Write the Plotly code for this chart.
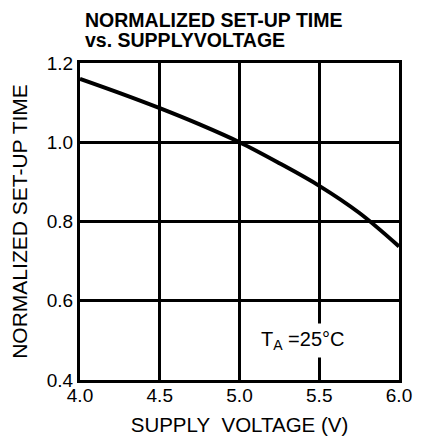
import plotly.graph_objects as go

# Data
supply_voltage = [4.0, 4.25, 4.5, 4.75, 5.0, 5.25, 5.5, 5.75, 6.0]
normalized_setup_time = [1.160, 1.124, 1.086, 1.045, 1.0, 0.947, 0.890, 0.822, 0.737]

x_ticks = [4.0, 4.5, 5.0, 5.5, 6.0]
x_tick_labels = ["4.0", "4.5", "5.0", "5.5", "6.0"]
y_ticks = [0.4, 0.6, 0.8, 1.0, 1.2]
y_tick_labels = ["0.4", "0.6", "0.8", "1.0", "1.2"]

title_line1 = "NORMALIZED SET-UP TIME"
title_line2 = "vs. SUPPLYVOLTAGE"
x_title = "SUPPLY&nbsp; VOLTAGE (V)"
y_title = "NORMALIZED SET-UP TIME"
temp_note = "T<sub>A</sub> =25°C"

FONT = "Liberation Sans, Arial, sans-serif"

fig = go.Figure()
fig.add_trace(go.Scatter(
    x=supply_voltage, y=normalized_setup_time,
    mode="lines", line=dict(color="black", width=4, shape="spline"),
    showlegend=False, hoverinfo="skip",
))

axis_common = dict(
    showgrid=True, gridcolor="black", gridwidth=2.5,
    showline=True, linecolor="black", linewidth=3, mirror=True,
    zeroline=False, ticks="", automargin=False, ticklabeloverflow="allow",
    tickfont=dict(family=FONT, size=19, color="black"),
)

fig.update_xaxes(
    range=[4.0, 6.0], tickvals=x_ticks, ticktext=x_tick_labels,
    ticklabelstandoff=-4,
    title=dict(text=x_title, font=dict(family=FONT, size=20.5, color="black"), standoff=18),
    **axis_common,
)
fig.update_yaxes(
    range=[0.4, 1.2], tickvals=y_ticks, ticktext=y_tick_labels,
    title=dict(text=y_title, font=dict(family=FONT, size=21, color="black"), standoff=21),
    **axis_common,
)

fig.add_annotation(
    text="<b>" + title_line1 + "</b>", xref="paper", yref="paper",
    x=0, y=1.137, xanchor="left", yanchor="middle", showarrow=False, xshift=3,
    font=dict(family=FONT, size=19.5, color="black"),
)
fig.add_annotation(
    text="<b>" + title_line2 + "</b>", xref="paper", yref="paper",
    x=0, y=1.0726, xanchor="left", yanchor="middle", showarrow=False, xshift=3,
    font=dict(family=FONT, size=19.5, color="black"),
)
fig.add_annotation(
    text=temp_note, x=5.4, y=0.5, xref="x", yref="y",
    xanchor="center", yanchor="middle", showarrow=False,
    bgcolor="white", borderpad=4,
    font=dict(family=FONT, size=20, color="black"),
)

# The page body has an 8 px margin, so the visible area for the figure is
# 405 x 428 px; the figure is sized to fit it.
fig.update_layout(
    width=405, height=428,
    margin=dict(l=72, r=14, t=55, b=56, autoexpand=False),
    paper_bgcolor="white", plot_bgcolor="white",
    font=dict(family=FONT, color="black"),
)

fig.write_html("out.html")
